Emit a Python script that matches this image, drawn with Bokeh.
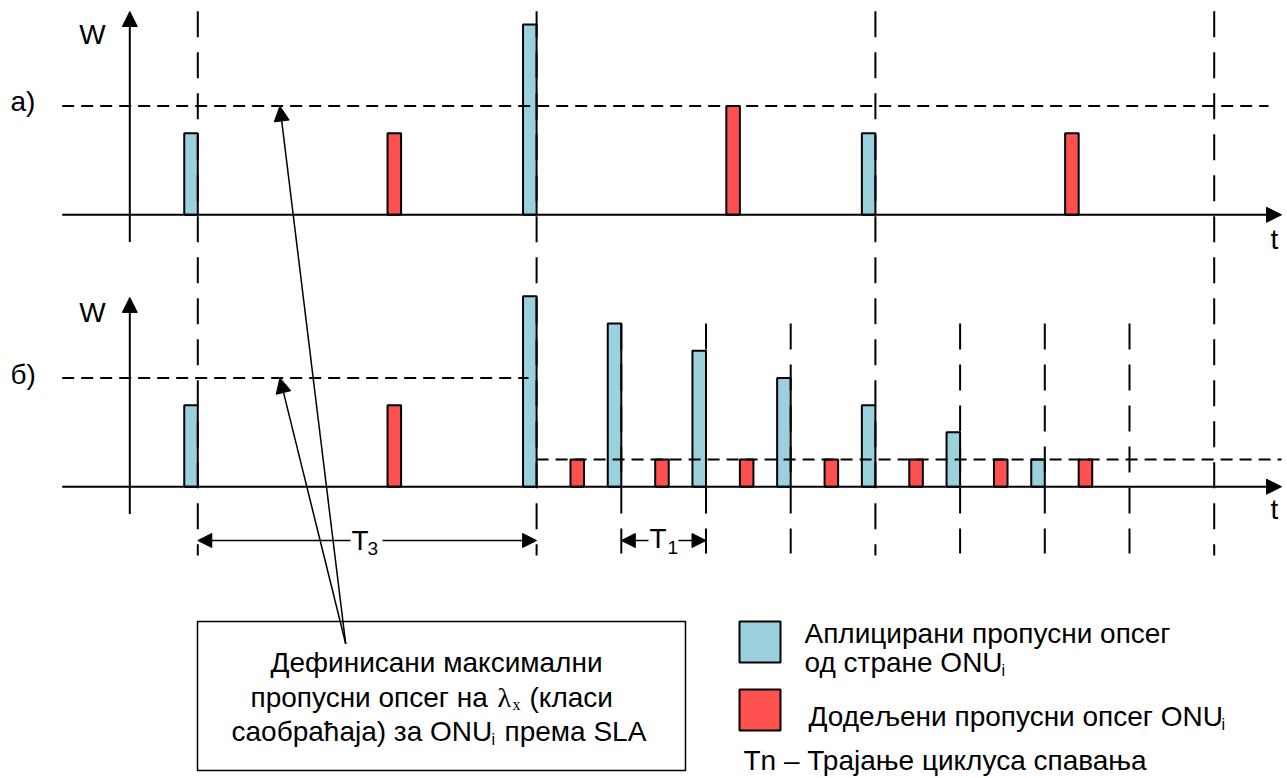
from bokeh.plotting import figure
from bokeh.models import Range1d, Arrow, NormalHead, Label
from bokeh.embed import file_html
from bokeh.resources import INLINE

# ---------------- data (time in T1 units, bandwidth W in units) ----------------
# a) requested bandwidth (ends at cycle boundary) and granted bandwidth
a_req_t = [0, 4, 8]
a_req_w = [3, 7, 3]
a_grant_t = [2.24, 6.24, 10.24]
a_grant_w = [3, 4, 3]
# b) requested / granted
b_req_t = [0, 4, 5, 6, 7, 8, 9, 10]
b_req_w = [3, 7, 6, 5, 4, 3, 2, 1]
b_grant_t = [2.24, 4.4, 5.4, 6.4, 7.4, 8.4, 9.4, 10.4]
b_grant_w = [3, 1, 1, 1, 1, 1, 1, 1]
sla_max_w = 4          # defined maximum bandwidth (SLA)
b_limited_w = 1        # limited grant level in b)
t3_marks = [0, 4, 8, 12]
t1_marks = [5, 6, 7, 9, 10, 11]

CYAN = "#9BD0DD"
RED = "#FF5050"
FONT = "Liberation Sans"
SERIF = "Liberation Serif"
BW = 0.16       # bar width in T1 units
B_OFF = -10     # vertical offset of panel b)

W, H = 1287, 778
X0, SX, Y0, SY = 197.3, 84.7, 214.3, 27.19


def X(px):
    return (px - X0) / SX


def Y(py):
    return (Y0 - py) / SY


p = figure(width=W, height=H, x_range=Range1d(X(0), X(W)), y_range=Range1d(Y(H), Y(0)),
           output_backend="svg", toolbar_location=None, x_axis_location=None, y_axis_location=None,
           min_border=0, outline_line_color=None, background_fill_color="white")
p.grid.visible = False


def bars(ts, ws, color, off, end_aligned):
    left = [t - BW if end_aligned else t for t in ts]
    right = [t if end_aligned else t + BW for t in ts]
    p.quad(left=left, right=right, bottom=[off] * len(ts), top=[off + w for w in ws],
           fill_color=color, line_color="black", line_width=2)


bars(a_req_t, a_req_w, CYAN, 0, True)
bars(a_grant_t, a_grant_w, RED, 0, False)
bars(b_req_t, b_req_w, CYAN, B_OFF, True)
bars(b_grant_t, b_grant_w, RED, B_OFF, False)

# dashed verticals
p.segment(x0=t3_marks, y0=[Y(10.7)] * len(t3_marks), x1=t3_marks, y1=[Y(555)] * len(t3_marks),
          line_color="black", line_width=2, line_dash="26 15")
p.segment(x0=t1_marks, y0=[B_OFF + b_req_w[2]] * len(t1_marks), x1=t1_marks, y1=[Y(553)] * len(t1_marks),
          line_color="black", line_width=2, line_dash="26 15")
# dashed horizontals
p.segment(x0=[X(61.7), X(61.7), b_req_t[1]], y0=[sla_max_w, B_OFF + sla_max_w, B_OFF + b_limited_w],
          x1=[X(1268), X(528), X(1281)], y1=[sla_max_w, B_OFF + sla_max_w, B_OFF + b_limited_w],
          line_color="black", line_width=2, line_dash="12 7")

# description box and legend squares
p.quad(left=[X(197)], right=[X(685)], bottom=[Y(770)], top=[Y(621)],
       fill_color="white", line_color="black", line_width=1.5)
p.quad(left=[X(739), X(739)], right=[X(780), X(780)], bottom=[Y(662), Y(730)], top=[Y(621), Y(689)],
       fill_color=[CYAN, RED], line_color="black", line_width=2)


def arrow(x0, y0, x1, y1, size=15, lw=2):
    p.add_layout(Arrow(end=NormalHead(size=size, fill_color="black", line_color="black", line_width=1),
                       x_start=x0, y_start=y0, x_end=x1, y_end=y1,
                       line_color="black", line_width=lw))


# axes
for off, ytip in [(0, Y(11)), (B_OFF, B_OFF + (Y(296.7) - Y(486)))]:
    arrow(X(61.7), off, X(1281), off, 15, 2)
    arrow(X(129.3), off - 1.0, X(129.3), ytip, 15, 2)

# dimension arrows
arrow(X(350), Y(540), t3_marks[0], Y(540), 14, 1.5)
arrow(X(382), Y(540), t3_marks[1], Y(540), 14, 1.5)
arrow(X(648), Y(540), t1_marks[0], Y(540), 14, 1.5)
arrow(X(678), Y(540), t1_marks[1], Y(540), 14, 1.5)

# pointers from the box to the SLA lines
arrow(X(345.2), Y(643.3), X(279.4), sla_max_w, 15, 1.5)
arrow(X(345.2), Y(643.3), X(279.4), B_OFF + sla_max_w, 15, 1.5)


def lbl(px, py, text, size=28, align="left", font=FONT):
    # py is the wanted baseline; small correction for how the label is placed
    p.add_layout(Label(x=X(px), y=Y(py - 0.32 * size), text=text, text_font=font,
                       text_font_size=f"{size}px", text_align=align,
                       text_baseline="alphabetic", text_color="black"))


lbl(92, 43, "W", align="center")
lbl(92, 321, "W", align="center")
lbl(10, 110, "а)")
lbl(10, 383, "б)")
lbl(1270, 248, "t")
lbl(1270, 518, "t")
lbl(351, 549, "T")
lbl(367, 554, "3", size=19)
lbl(649, 547, "T")
lbl(667, 553, "1", size=19)

# box text
lbl(436, 671, "Дефинисани максимални", align="center")
lbl(250, 706, "пропусни опсег на")
lbl(497, 706, "λ", size=28, font=SERIF)
lbl(512, 709, "x", size=16, font=SERIF)
lbl(529, 706, "(класи")
lbl(231, 740, "саобраћаја) за ONU")
lbl(491, 744, "i", size=16)
lbl(504, 740, "према SLA")

# legend text
lbl(804, 642, "Аплицирани пропусни опсег")
lbl(804, 671, "од стране ONU")
lbl(1001, 675, "i", size=16)
lbl(808, 725, "Додељени пропусни опсег ONU")
lbl(1221, 729, "i", size=16)
lbl(743, 769, "Tn – Трајање циклуса спавања")

open("out.html", "w").write(file_html(p, INLINE))
